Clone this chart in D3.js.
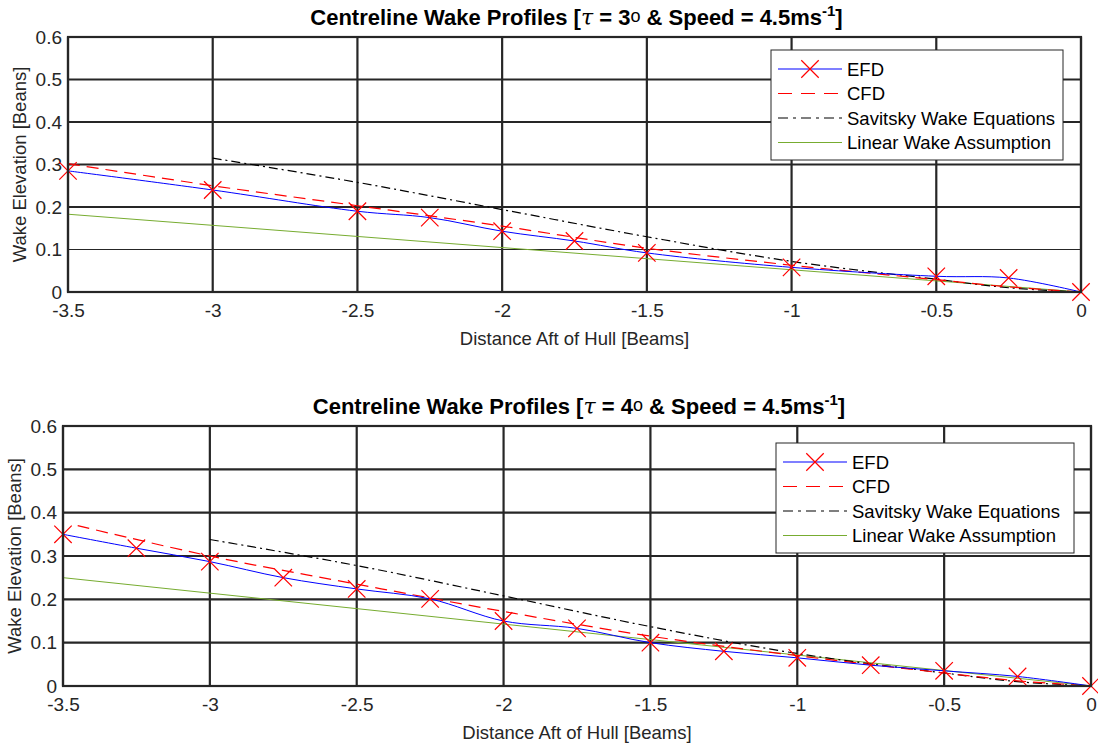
<!DOCTYPE html>
<html>
<head>
<meta charset="utf-8">
<script src="https://cdn.jsdelivr.net/npm/d3@7"></script>
<style>
  body { margin: 0; background: #fff; }
  svg text { font-family: "Liberation Sans", Arial, sans-serif; }
</style>
</head>
<body>
<div id="container"></div>
<script>
/* CONSTANTS AND GLOBALS */
const width = 1098;
const height = 747;

/* DATA */
const xTicks = [-3.5, -3, -2.5, -2, -1.5, -1, -0.5, 0];
const yTicks = [0, 0.1, 0.2, 0.3, 0.4, 0.5, 0.6];
const legendNames = ["EFD", "CFD", "Savitsky Wake Equations", "Linear Wake Assumption"];

// tau = 3 deg
const efd3 = [[-3.5, 0.285], [-3, 0.24], [-2.5, 0.19], [-2.25, 0.175], [-2, 0.143], [-1.75, 0.12],
  [-1.5, 0.092], [-1, 0.058], [-0.5, 0.037], [-0.25, 0.033], [0, 0]];
const cfd3 = [[-3.5, 0.302], [-3, 0.25], [-2.5, 0.203], [-2, 0.155], [-1.5, 0.103], [-1, 0.063],
  [-0.5, 0.029], [-0.25, 0.012], [0, 0]];
const sav3 = [[-3, 0.315], [-2.5, 0.258], [-2, 0.194], [-1.5, 0.13], [-1, 0.072], [-0.5, 0.03],
  [-0.25, 0.01], [0, 0]];
const lin3 = [[-3.5, 0.183], [0, 0]];

// tau = 4 deg
const efd4 = [[-3.5, 0.35], [-3.25, 0.318], [-3, 0.287], [-2.75, 0.25], [-2.5, 0.224], [-2.25, 0.201],
  [-2, 0.15], [-1.75, 0.133], [-1.5, 0.1], [-1.25, 0.08], [-1, 0.065], [-0.75, 0.048],
  [-0.5, 0.035], [-0.25, 0.022], [0, 0]];
const cfd4 = [[-3.45, 0.37], [-3, 0.3], [-2.5, 0.235], [-2, 0.172], [-1.5, 0.115], [-1, 0.07],
  [-0.5, 0.03], [-0.25, 0.012], [0, 0]];
const sav4 = [[-3, 0.338], [-2.5, 0.278], [-2, 0.208], [-1.5, 0.137], [-1, 0.075], [-0.5, 0.03],
  [-0.25, 0.01], [0, 0]];
const lin4 = [[-3.5, 0.25], [0, 0]];

const svg = d3.select("#container")
  .append("svg")
  .attr("width", width)
  .attr("height", height)

const fmt = d => d3.format("~g")(d).replace("−", "-")

function drawPanel(p) {
  const xScale = d3.scaleLinear().domain([-3.5, 0]).range([p.left, p.right])
  const yScale = d3.scaleLinear().domain([0, 0.6]).range([p.bottom, p.top])
  const g = svg.append("g")

  // grid
  g.selectAll(".vgrid")
    .data(xTicks)
    .join("line")
    .attr("x1", d => xScale(d)).attr("x2", d => xScale(d))
    .attr("y1", p.top).attr("y2", p.bottom)
    .attr("stroke", "#262626").attr("stroke-width", 2.2)
  g.selectAll(".hgrid")
    .data(yTicks)
    .join("line")
    .attr("x1", p.left).attr("x2", p.right)
    .attr("y1", d => yScale(d)).attr("y2", d => yScale(d))
    .attr("stroke", "#262626")
    .attr("stroke-width", d => (p.thinTenth && d === 0.1) ? 1 : 2.2)

  const xAxis = d3.axisBottom(xScale).tickValues(xTicks).tickSize(0).tickPadding(12).tickFormat(fmt)
  g.append("g")
    .attr("transform", `translate(0, ${p.bottom})`)
    .call(xAxis)
    .call(a => a.select(".domain").remove())
    .call(a => a.selectAll("text").attr("font-size", 19).attr("fill", "#262626")
      .attr("font-family", "Liberation Sans, Arial, sans-serif"))

  const yAxis = d3.axisLeft(yScale).tickValues(yTicks).tickSize(0).tickPadding(6).tickFormat(fmt)
  g.append("g")
    .attr("transform", `translate(${p.left}, 0)`)
    .call(yAxis)
    .call(a => a.select(".domain").remove())
    .call(a => a.selectAll("text").attr("font-size", 19).attr("fill", "#262626")
      .attr("font-family", "Liberation Sans, Arial, sans-serif"))

  const line = d3.line().x(d => xScale(d[0])).y(d => yScale(d[1]))
  const smooth = d3.line().x(d => xScale(d[0])).y(d => yScale(d[1])).curve(d3.curveCatmullRom.alpha(0.5))

  g.append("path").datum(p.lin).attr("d", line)
    .attr("fill", "none").attr("stroke", "#77ac30").attr("stroke-width", 1)
  g.append("path").datum(p.sav).attr("d", smooth)
    .attr("fill", "none").attr("stroke", "#000").attr("stroke-width", 1.2)
    .attr("stroke-dasharray", "9,4,2,4")
  g.append("path").datum(p.cfd).attr("d", smooth)
    .attr("fill", "none").attr("stroke", "#ff0000").attr("stroke-width", 1.2)
    .attr("stroke-dasharray", "12,7")
  g.append("path").datum(p.efd).attr("d", smooth)
    .attr("fill", "none").attr("stroke", "#0000ff").attr("stroke-width", 1)

  const xMark = d3.symbol().type(d3.symbolX).size(200)
  g.selectAll(".mark")
    .data(p.efd)
    .join("path")
    .attr("d", xMark)
    .attr("transform", d => `translate(${xScale(d[0])}, ${yScale(d[1])})`)
    .attr("fill", "none").attr("stroke", "#ff0000").attr("stroke-width", 1.2)

  // box
  g.append("rect")
    .attr("x", p.left).attr("y", p.top)
    .attr("width", p.right - p.left).attr("height", p.bottom - p.top)
    .attr("fill", "none").attr("stroke", "#262626").attr("stroke-width", 2.2)

  // title
  const title = g.append("text")
    .attr("x", (p.left + p.right) / 2 + 2).attr("y", p.top - 12)
    .attr("text-anchor", "middle")
    .attr("font-size", 22).attr("font-weight", "bold").attr("fill", "#000")
  title.append("tspan").text("Centreline Wake Profiles [")
  title.append("tspan").text("τ").attr("font-style", "italic").attr("font-weight", "normal")
    .attr("font-family", "DejaVu Serif, serif")
  title.append("tspan").text(` = ${p.tau}`)
  title.append("tspan").text("o").attr("font-weight", "normal").attr("font-size", 18).attr("dy", -3)
  title.append("tspan").text(" & Speed = 4.5ms").attr("dy", 3)
  title.append("tspan").text("-1").attr("font-size", 15).attr("dy", -9)
  title.append("tspan").text("]").attr("dy", 9)

  // axis labels
  g.append("text")
    .attr("x", (p.left + p.right) / 2).attr("y", p.bottom + 53)
    .attr("text-anchor", "middle").attr("font-size", 18.5).attr("fill", "#262626")
    .text("Distance Aft of Hull [Beams]")
  g.append("text")
    .attr("transform", `translate(${p.left - 42}, ${(p.top + p.bottom) / 2}) rotate(-90)`)
    .attr("text-anchor", "middle").attr("font-size", 18.5).attr("fill", "#262626")
    .text("Wake Elevation [Beans]")

  // legend
  const lg = g.append("g").attr("transform", `translate(${p.legX}, ${p.legY})`)
  lg.append("rect")
    .attr("width", p.legW).attr("height", 110)
    .attr("fill", "#fff").attr("stroke", "#262626").attr("stroke-width", 1)
  const styles = [
    { c: "#0000ff", dash: null },
    { c: "#ff0000", dash: "14,9" },
    { c: "#555", dash: "10,5,3,5" },
    { c: "#77ac30", dash: null }
  ]
  legendNames.forEach((name, i) => {
    const yy = 19 + i * 24.5
    lg.append("line")
      .attr("x1", 7).attr("x2", 71).attr("y1", yy).attr("y2", yy)
      .attr("stroke", styles[i].c).attr("stroke-width", i === 2 ? 1.4 : 1.2)
      .attr("stroke-dasharray", styles[i].dash)
    if (i === 0) {
      lg.append("path").attr("d", xMark).attr("transform", `translate(39, ${yy})`)
        .attr("fill", "none").attr("stroke", "#ff0000").attr("stroke-width", 1.2)
    }
    lg.append("text")
      .attr("x", 76).attr("y", yy + 6.5)
      .attr("font-size", 18.5).attr("fill", "#000")
      .text(name)
  })
}

drawPanel({ left: 68, right: 1081, top: 37, bottom: 292, tau: 3, thinTenth: true,
  efd: efd3, cfd: cfd3, sav: sav3, lin: lin3, legX: 771, legY: 50, legW: 292 })
drawPanel({ left: 63, right: 1091, top: 426, bottom: 686, tau: 4, thinTenth: false,
  efd: efd4, cfd: cfd4, sav: sav4, lin: lin4, legX: 776, legY: 443, legW: 298 })
</script>
</body>
</html>
